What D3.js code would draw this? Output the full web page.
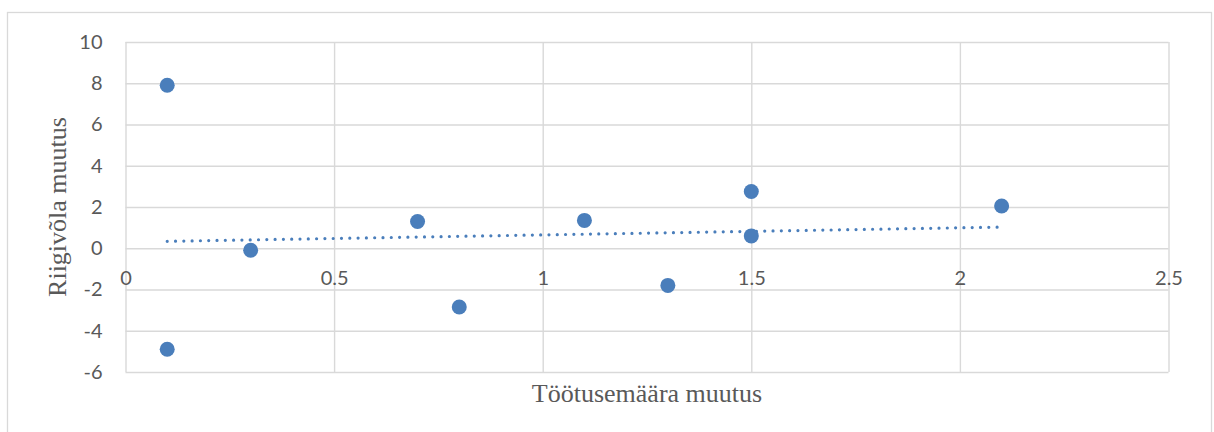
<!DOCTYPE html>
<html>
<head>
<meta charset="utf-8">
<script src="https://cdn.jsdelivr.net/npm/d3@7"></script>
<style>
  html, body { margin: 0; padding: 0; background: #fff; }
  svg { display: block; }
</style>
</head>
<body>
<svg id="chart" width="1214" height="432"></svg>
<script>
// Unemployment change vs. government debt change
const unemploymentChange = [0.1, 0.1, 0.3, 0.7, 0.8, 1.1, 1.3, 1.5, 1.5, 2.1];
const debtChange        = [7.9, -4.9, -0.1, 1.3, -2.85, 1.35, -1.8, 2.75, 0.6, 2.05];
const xTicks = [0, 0.5, 1, 1.5, 2, 2.5];
const yTicks = [-6, -4, -2, 0, 2, 4, 6, 8, 10];
const xTitle = "Töötusemäära muutus";
const yTitle = "Riigivõla muutus";

const svg = d3.select("#chart");
const plot = { left: 125.5, right: 1168.5, top: 42, bottom: 372 };
const gridColor = "#d9d9d9";
const markColor = "#4a7ebb";
const textColor = "#595959";
const tickFont = "Lato, 'Open Sans', sans-serif";
const titleFont = "'Liberation Serif', 'Times New Roman', serif";

// outer chart frame
svg.append("rect")
  .attr("x", 7.5).attr("y", 12.5)
  .attr("width", 1204).attr("height", 440)
  .attr("fill", "#fff").attr("stroke", gridColor).attr("stroke-width", 1.3);

const x = d3.scaleLinear().domain([0, 2.5]).range([plot.left, plot.right]);
const y = d3.scaleLinear().domain([-6, 10]).range([plot.bottom, plot.top]);

// horizontal gridlines
svg.append("g")
  .attr("transform", `translate(${plot.left},0)`)
  .call(d3.axisLeft(y).tickValues(yTicks).tickSize(-(plot.right - plot.left)).tickFormat(""))
  .call(g => g.select(".domain").remove())
  .call(g => g.selectAll("line").attr("stroke", gridColor).attr("stroke-width", 1.4));

// vertical gridlines
svg.append("g")
  .attr("transform", `translate(0,${plot.bottom})`)
  .call(d3.axisBottom(x).tickValues(xTicks).tickSize(-(plot.bottom - plot.top)).tickFormat(""))
  .call(g => g.select(".domain").remove())
  .call(g => g.selectAll("line").attr("stroke", gridColor).attr("stroke-width", 1.4));

// y tick labels
svg.append("g")
  .attr("transform", `translate(${plot.left},0)`)
  .call(d3.axisLeft(y).tickValues(yTicks).tickSize(0).tickPadding(23).tickFormat(d => String(d)))
  .call(g => g.select(".domain").remove())
  .call(g => g.selectAll("text")
    .attr("fill", textColor).attr("font-family", tickFont).attr("font-size", 20));

// x tick labels sit along the zero line
svg.append("g")
  .attr("transform", `translate(0,${y(0)})`)
  .call(d3.axisBottom(x).tickValues(xTicks).tickSize(0).tickPadding(23).tickFormat(d => String(d)))
  .call(g => g.select(".domain").remove())
  .call(g => g.selectAll("text")
    .attr("fill", textColor).attr("font-family", tickFont).attr("font-size", 20));

// least-squares trendline over the data range
const n = unemploymentChange.length;
const mx = d3.mean(unemploymentChange), my = d3.mean(debtChange);
let sxy = 0, sxx = 0;
for (let i = 0; i < n; i++) {
  sxy += (unemploymentChange[i] - mx) * (debtChange[i] - my);
  sxx += (unemploymentChange[i] - mx) ** 2;
}
const slope = sxy / sxx, intercept = my - slope * mx;
const [x0, x1] = d3.extent(unemploymentChange);
svg.append("path")
  .datum([x0, x1])
  .attr("d", d3.line().x(d => x(d)).y(d => y(intercept + slope * d)))
  .attr("fill", "none").attr("stroke", markColor)
  .attr("stroke-width", 3.2).attr("stroke-linecap", "round")
  .attr("stroke-dasharray", "0 8.3");

// scatter points
svg.append("g").selectAll("circle")
  .data(d3.range(n))
  .join("circle")
  .attr("cx", i => x(unemploymentChange[i]))
  .attr("cy", i => y(debtChange[i]))
  .attr("r", 7.5)
  .attr("fill", markColor);

// axis titles
svg.append("text")
  .attr("x", 647).attr("y", 402)
  .attr("text-anchor", "middle")
  .attr("fill", textColor).attr("font-family", titleFont).attr("font-size", 26)
  .text(xTitle);

svg.append("text")
  .attr("transform", `translate(66,${(plot.top + plot.bottom) / 2}) rotate(-90)`)
  .attr("text-anchor", "middle")
  .attr("fill", textColor).attr("font-family", titleFont).attr("font-size", 26)
  .text(yTitle);
</script>
</body>
</html>
